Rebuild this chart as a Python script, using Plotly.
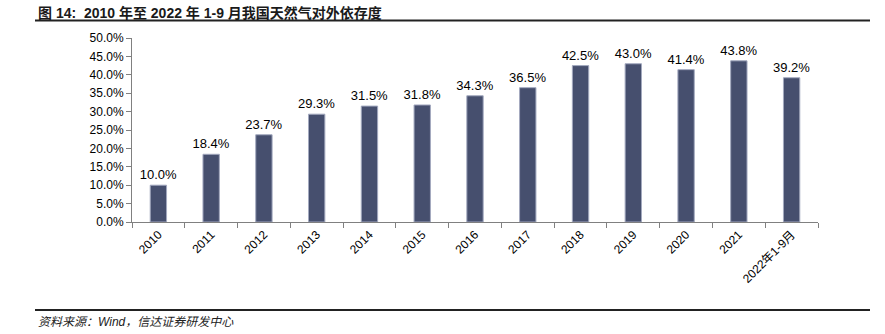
import plotly.graph_objects as go

# 中国天然气对外依存度
categories = ["2010", "2011", "2012", "2013", "2014", "2015", "2016",
              "2017", "2018", "2019", "2020", "2021", "2022年1-9月"]
dependence = [10.0, 18.4, 23.7, 29.3, 31.5, 31.8, 34.3,
              36.5, 42.5, 43.0, 41.4, 43.8, 39.2]
y_ticks = [0, 5, 10, 15, 20, 25, 30, 35, 40, 45, 50]

title_text = "图 14:  2010 年至 2022 年 1-9 月我国天然气对外依存度"
source_text = "资料来源：Wind，信达证券研发中心"

FONT = "Liberation Sans, Arial, Noto Sans CJK SC, sans-serif"

fig = go.Figure(
    go.Bar(
        x=categories,
        y=dependence,
        width=0.31,
        marker=dict(color="#464f6e", line=dict(color="#a3a9bf", width=1)),
        text=[f"{v:.1f}%" for v in dependence],
        textposition="outside",
        constraintext="none",
        textfont=dict(family=FONT, size=13, color="#000000"),
        cliponaxis=False,
    )
)

fig.update_layout(
    width=885,
    height=334,
    margin=dict(l=132, r=67, t=38, b=112),
    paper_bgcolor="white",
    plot_bgcolor="white",
    showlegend=False,
    font=dict(family=FONT, size=12, color="#000000"),
)

fig.update_yaxes(
    range=[0, 50],
    tickvals=y_ticks,
    ticktext=[f"{v:.1f}%" for v in y_ticks],
    showgrid=False,
    zeroline=False,
    showline=True,
    linecolor="#808080",
    linewidth=1,
    ticks="outside",
    ticklen=5,
    tickcolor="#808080",
    tickfont=dict(family=FONT, size=12),
)

fig.update_xaxes(
    type="category",
    showgrid=False,
    showline=True,
    linecolor="#808080",
    linewidth=1,
    ticks="outside",
    tickson="boundaries",
    ticklen=5,
    tickcolor="#808080",
    tickangle=-45,
    tickfont=dict(family=FONT, size=12),
)

# 标题与资料来源
fig.add_annotation(
    text=f"<b>{title_text}</b>",
    xref="paper", yref="paper",
    x=-(132 - 36) / 686, y=1 + (38 - 3) / 184,
    xanchor="left", yanchor="top",
    showarrow=False,
    font=dict(family="Liberation Sans, Noto Sans CJK SC, sans-serif", size=14, color="#1a1a1a"),
)
fig.add_annotation(
    text=f"<i>{source_text}</i>",
    xref="paper", yref="paper",
    x=-(132 - 36) / 686, y=-(313 - 222) / 184,
    xanchor="left", yanchor="top",
    showarrow=False,
    font=dict(family="Liberation Sans, Noto Sans CJK SC, sans-serif", size=12, color="#222222"),
)

# 标题下划线与底部分隔线
for y_px, w in [(20.5, 2), (310, 2)]:
    fig.add_shape(
        type="line",
        xref="paper", yref="paper",
        x0=-(132 - 35) / 686, x1=(870 - 132) / 686,
        y0=(222 - y_px) / 184, y1=(222 - y_px) / 184,
        line=dict(color="#222222", width=w),
    )

fig.write_html("out.html")
